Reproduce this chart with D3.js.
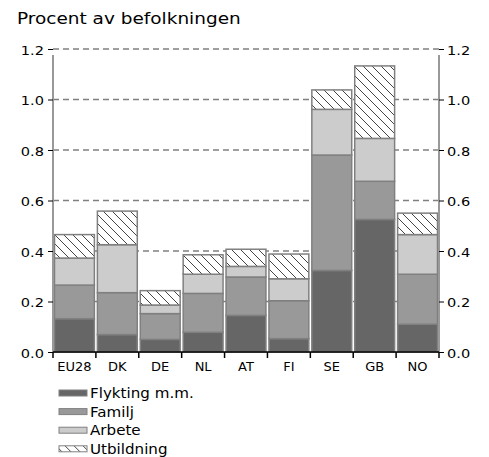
<!DOCTYPE html>
<html>
<head>
<meta charset="utf-8">
<script src="https://cdn.jsdelivr.net/npm/d3@7"></script>
<style>
  body { margin: 0; background: #fff; }
  text { font-family: "DejaVu Sans", Verdana, sans-serif; fill: #000; }
</style>
</head>
<body>
<div id="container"></div>
<script>
/* CONSTANTS AND GLOBALS */
const width = 489,
  height = 457,
  margin = {top: 49, left: 53, bottom: 105, right: 50};

/* DATA */
const countries = ["EU28", "DK", "DE", "NL", "AT", "FI", "SE", "GB", "NO"];
const seriesNames = ["Flykting m.m.", "Familj", "Arbete", "Utbildning"];
const flykting   = [0.132, 0.069, 0.050, 0.078, 0.145, 0.053, 0.323, 0.525, 0.110];
const familj     = [0.133, 0.166, 0.102, 0.154, 0.152, 0.150, 0.457, 0.151, 0.198];
const arbete     = [0.107, 0.190, 0.034, 0.076, 0.042, 0.087, 0.181, 0.170, 0.157];
const utbildning = [0.093, 0.133, 0.057, 0.077, 0.068, 0.098, 0.077, 0.287, 0.085];
const yTicks = [0, 0.2, 0.4, 0.6, 0.8, 1.0, 1.2];

const data = countries.map((c, i) => ({
  land: c,
  "Flykting m.m.": flykting[i],
  "Familj": familj[i],
  "Arbete": arbete[i],
  "Utbildning": utbildning[i]
}));

const fills = {"Flykting m.m.": "#666666", "Familj": "#999999", "Arbete": "#cccccc", "Utbildning": "url(#hatch)"};

// SVG
const svg = d3.select("#container")
  .append("svg")
  .attr("width", width)
  .attr("height", height);

// hatch pattern
const pat = svg.append("defs").append("pattern")
  .attr("id", "hatch")
  .attr("patternUnits", "userSpaceOnUse")
  .attr("width", 9)
  .attr("height", 9);
pat.append("rect").attr("width", 9).attr("height", 9).attr("fill", "#fff");
pat.append("path")
  .attr("d", "M-1,-1 L10,10 M-5,4 L5,14 M4,-5 L14,5")
  .attr("stroke", "#444")
  .attr("stroke-width", 1);

// SCALES
const xScale = d3.scaleBand()
  .domain(countries)
  .range([margin.left, width - margin.right])
  .paddingInner(0.07)
  .paddingOuter(0.035);

const yScale = d3.scaleLinear()
  .domain([0, 1.2])
  .range([height - margin.bottom, margin.top]);

// GRIDLINES
svg.append("g")
  .selectAll("line")
  .data(yTicks.filter(d => d > 0))
  .join("line")
  .attr("x1", margin.left)
  .attr("x2", width - margin.right)
  .attr("y1", d => yScale(d))
  .attr("y2", d => yScale(d))
  .attr("stroke", "#808080")
  .attr("stroke-width", 1.5)
  .attr("stroke-dasharray", "6,4");

// STACKED BARS
const stack = d3.stack().keys(seriesNames);
const layers = stack(data);

svg.append("g")
  .selectAll("g")
  .data(layers)
  .join("g")
  .attr("fill", d => fills[d.key])
  .selectAll("rect")
  .data(d => d)
  .join("rect")
  .attr("x", d => xScale(d.data.land))
  .attr("width", xScale.bandwidth())
  .attr("y", d => yScale(d[1]))
  .attr("height", d => yScale(d[0]) - yScale(d[1]))
  .attr("stroke", "#808080")
  .attr("stroke-width", 1.5);

// AXES
const fmt = d3.format(".1f");
const sx = 1.12; // labels in the original are a bit wider
const yAxisL = d3.axisLeft(yScale).tickValues(yTicks).tickFormat(fmt).tickSize(5);
const yAxisR = d3.axisRight(yScale).tickValues(yTicks).tickFormat(fmt).tickSize(5);

const gl = svg.append("g")
  .attr("transform", `translate(${margin.left},0)`)
  .call(yAxisL);
const gr = svg.append("g")
  .attr("transform", `translate(${width - margin.right},0)`)
  .call(yAxisR);
[gl, gr].forEach((g, k) => {
  g.select(".domain").attr("stroke", "#999").attr("stroke-width", 2).attr("d",
    `M0,${yScale(1.2) + 6}V${yScale(0)}`);
  g.selectAll(".tick line").attr("stroke", "#000");
  g.selectAll("text")
    .style("font-size", "13px")
    .attr("x", (k === 0 ? -9 : 8) / sx)
    .attr("y", 1)
    .attr("transform", `scale(${sx},1)`);
});

// x axis with ticks on category boundaries
const xBase = height - margin.bottom;
const boundaries = d3.range(countries.length + 1).map(i => margin.left + i * (width - margin.left - margin.right) / countries.length);
svg.append("line")
  .attr("x1", margin.left).attr("x2", width - margin.right)
  .attr("y1", xBase).attr("y2", xBase)
  .attr("stroke", "#000").attr("stroke-width", 1.5);
svg.append("g")
  .selectAll("line")
  .data(boundaries)
  .join("line")
  .attr("x1", d => d).attr("x2", d => d)
  .attr("y1", xBase).attr("y2", xBase + 6)
  .attr("stroke", "#000").attr("stroke-width", 1.5);
svg.append("g")
  .selectAll("text")
  .data(countries)
  .join("text")
  .attr("x", d => xScale(d) + xScale.bandwidth() / 2)
  .attr("y", xBase + 19)
  .attr("text-anchor", "middle")
  .style("font-size", "13px")
  .text(d => d);

// TITLE
svg.append("text")
  .attr("transform", "translate(17,24) scale(1.155,1)")
  .style("font-size", "16px")
  .text("Procent av befolkningen");

// LEGEND
const legend = svg.append("g")
  .selectAll("g")
  .data(seriesNames)
  .join("g")
  .attr("transform", (d, i) => `translate(59, ${393 + i * 18.6})`);
legend.append("rect")
  .attr("x", 0).attr("y", -3)
  .attr("width", 28).attr("height", 6)
  .attr("fill", d => fills[d])
  .attr("stroke", "#808080")
  .attr("stroke-width", 1);
legend.append("text")
  .attr("transform", "translate(31,5) scale(1.12,1)")
  .style("font-size", "13.5px")
  .text(d => d);
</script>
</body>
</html>
